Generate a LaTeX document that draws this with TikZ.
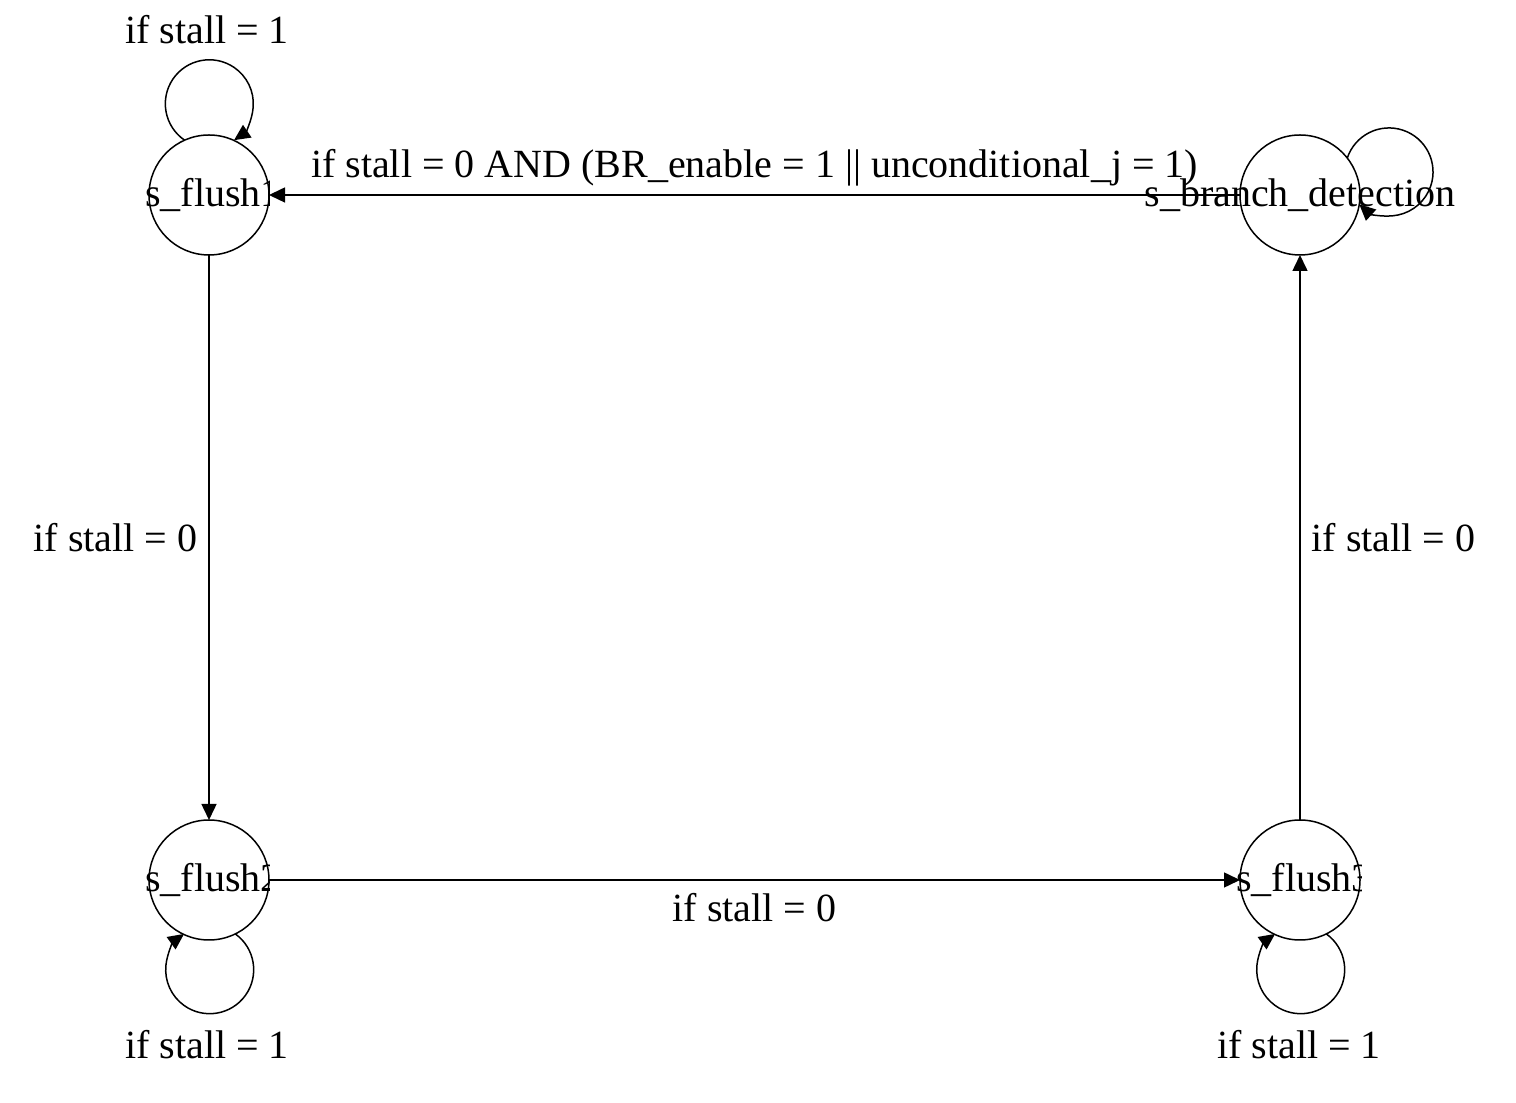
\documentclass[tikz,border=0pt]{standalone}
\usepackage{fontspec}
\setmainfont{Liberation Serif}
\usetikzlibrary{arrows.meta}
\begin{document}
\begin{tikzpicture}[x=0.5pt,y=0.5pt,
  every node/.style={font=\fontsize{20}{24}\selectfont},
  state/.style={circle, draw, line width=0.75pt, minimum size=60pt, inner sep=0pt, outer sep=0pt},
  edge/.style={line width=0.75pt, -{Triangle[length=8pt,width=7.5pt]}},
  lbl/.style={inner sep=0pt}]
\useasboundingbox (0,0) rectangle (1516,1103);
% states
\node[state] (f1) at (209,908) {};
\node[state] (b)  at (1300,908) {};
\node[state] (f2) at (209,223) {};
\node[state] (f3) at (1300,223) {};
% state texts (clipped like the original)
\begin{scope}
  \clip (100,850) rectangle (269,960);
  \node[lbl, xshift=2pt] (t1) at (f1) {s\_flush1};
\end{scope}
\begin{scope}
  \clip (100,165) rectangle (269,275);
  \node[lbl, xshift=2pt] (t2) at (f2) {s\_flush2};
\end{scope}
\begin{scope}
  \clip (1190,165) rectangle (1361,275);
  \node[lbl, xshift=2pt] (t3) at (f3) {s\_flush3};
\end{scope}
\node[lbl] (tb) at (b) {s\_branch\_detection};
% transitions
\draw[edge] (b) -- node[lbl, midway, yshift=13.5pt] (lt) {if stall = 0 AND (BR\_enable = 1 || unconditional\_j = 1)} (f1);
\draw[edge] (f1) -- node[lbl, midway, anchor=east, xshift=-5.5pt] (ll) {if stall = 0} (f2);
\draw[edge] (f2) -- node[lbl, midway, yshift=-14pt] (lbm) {if stall = 0} (f3);
\draw[edge] (f3) -- node[lbl, midway, anchor=west, xshift=5.5pt] (lr) {if stall = 0} (b);
% self loops
\draw[edge] (f1.114.3) arc[start angle=235.8, end angle=-55.8, radius=44];
\node[lbl] (l1) at (207,1073) {if stall = 1};
\draw[edge] (b.38.2) arc[start angle=161.6, end angle=-132.5, radius=44];
\draw[edge] (f2.-64.7) arc[start angle=54.4, end angle=-234.4, radius=44];
\node[lbl] (l2) at (207,58) {if stall = 1};
\draw[edge] (f3.-64.7) arc[start angle=54.4, end angle=-234.4, radius=44];
\node[lbl] (l3) at (1299,58) {if stall = 1};
\end{tikzpicture}
\end{document}
